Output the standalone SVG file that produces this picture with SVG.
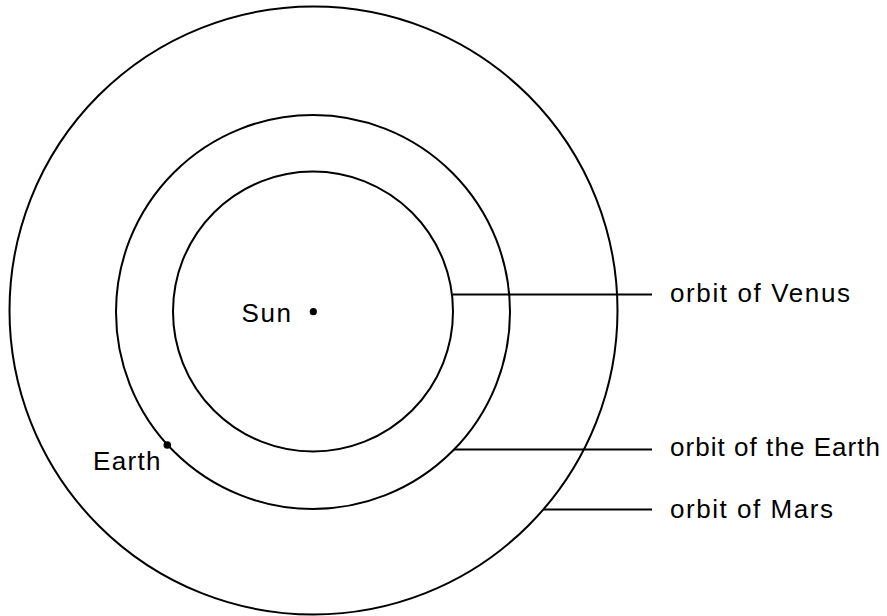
<svg xmlns="http://www.w3.org/2000/svg" width="887" height="616" viewBox="0 0 887 616">
<style>
.orbit{fill:none;stroke:#000;stroke-width:2}
.lead{stroke:#000;stroke-width:1.8}
.lbl{font-family:"Liberation Sans",Arial,sans-serif;font-size:26px;fill:#000}
</style>
<rect width="887" height="616" fill="#fff"/>
<g id="orbit-mars"><circle class="orbit" cx="313.5" cy="310.5" r="304"/></g>
<g id="orbit-earth"><circle class="orbit" cx="313" cy="312" r="197"/></g>
<g id="orbit-venus"><circle class="orbit" cx="313" cy="311.5" r="140"/></g>
<g id="sun"><circle cx="313.3" cy="311.7" r="3.6" fill="#000"/><text class="lbl" x="241.5" y="321.5" textLength="49.5">Sun</text></g>
<g id="earth"><circle cx="167.3" cy="445" r="3.8" fill="#000"/><text class="lbl" x="93" y="470" textLength="67.5">Earth</text></g>
<g id="connectors">
<line class="lead" x1="453" y1="294.5" x2="652" y2="294.5"/>
<line class="lead" x1="454" y1="449.5" x2="652" y2="449.5"/>
<line class="lead" x1="543" y1="509.5" x2="652" y2="509.5"/>
</g>
<g id="label-venus"><text class="lbl" x="670" y="302" textLength="180">orbit of Venus</text></g>
<g id="label-earth"><text class="lbl" x="670" y="455.5" textLength="210">orbit of the Earth</text></g>
<g id="label-mars"><text class="lbl" x="670" y="518" textLength="163">orbit of Mars</text></g>
</svg>
